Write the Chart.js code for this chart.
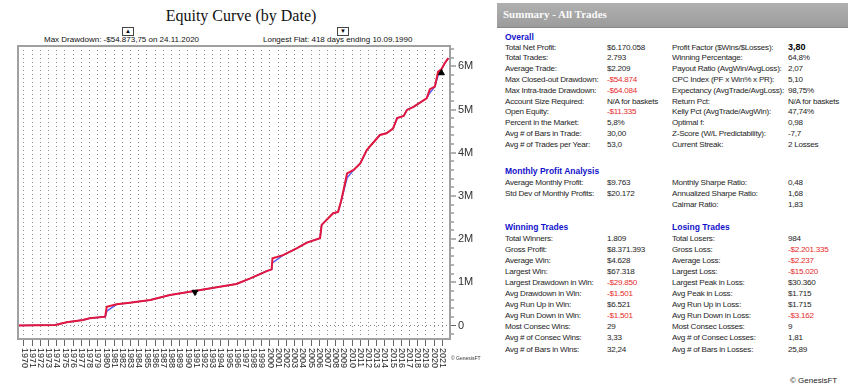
<!DOCTYPE html>
<html>
<head>
<meta charset="utf-8">
<script src="https://cdn.jsdelivr.net/npm/chart.js@4.4.1/dist/chart.umd.min.js"></script>
<style>
  body { margin:0; width:848px; height:391px; background:#fff; position:relative; overflow:hidden;
         font-family:"Liberation Sans", Arial, sans-serif; color:#1a1a1a; }
  #wrap { position:absolute; left:0; top:0; width:480px; height:391px; }
  .title { position:absolute; left:241px; top:7px; transform:translateX(-50%); white-space:nowrap;
           font-family:"Liberation Serif","Times New Roman",serif; font-size:16px; color:#111; }
  .sub { position:absolute; top:35px; font-size:8px; white-space:nowrap; color:#111; }
  .mark { position:absolute; top:27px; width:10px; height:7px; border:1px solid #444; font-size:6px;
          line-height:7px; text-align:center; color:#000; }
  .bar { position:absolute; left:497px; top:3px; width:351px; height:24px;
         background:linear-gradient(#b0b0b0,#9c9c9c); border-bottom:1px solid #888; }
  .bar span { position:absolute; left:6px; top:5px; font-family:"Liberation Serif","Times New Roman",serif;
              font-weight:bold; font-size:11px; color:#fafafa; }
  .t { position:absolute; font-size:8.1px; letter-spacing:-0.25px; line-height:11px; white-space:nowrap; color:#1e1e1e; }
  .h { position:absolute; font-size:8.5px; line-height:11px; white-space:nowrap; font-weight:bold; color:#1212cc; }
  .red { color:#e52b2b; }
  .b { font-weight:bold; font-size:9px; letter-spacing:0; color:#000; }
  .copy1 { position:absolute; left:451px; top:355px; font-size:5px; color:#333; white-space:nowrap; }
  .copy2 { position:absolute; left:790px; top:376px; font-size:8px; color:#222; white-space:nowrap; }
</style>
</head>
<body>
<div class="title">Equity Curve (by Date)</div>
<div class="mark" style="left:122px">&#9650;</div>
<div class="mark" style="left:337px">&#9660;</div>
<div class="sub" style="left:44px">Max Drawdown: -$54.873,75 on 24.11.2020</div>
<div class="sub" style="left:263px">Longest Flat: 418 days ending 10.09.1990</div>
<div id="wrap"><canvas id="grafico"></canvas></div>
<div class="copy1">&copy; GenesisFT</div>
<div class="bar"><span>Summary - All Trades</span></div>
<div id="tabella"></div>
<div class="copy2">&copy; GenesisFT</div>
<script>
// dati (anni decimali, equity in $)
const dates = [1969.3, 1971.5, 1973.8, 1975.2, 1977.2, 1978.0, 1979.9, 1980.1, 1981.3, 1982.9,
  1985.4, 1987.8, 1990.8, 1993.5, 1995.9, 1997.6, 1999.6, 2000.2, 2000.3, 2001.6,
  2003.3, 2004.5, 2006.1, 2006.3, 2007.7, 2008.3, 2008.7, 2009.4, 2010.2, 2011.0,
  2011.8, 2013.4, 2014.2, 2015.0, 2015.5, 2016.3, 2016.7, 2017.5, 2019.1, 2019.5,
  2020.1, 2020.5, 2020.9, 2021.3, 2021.75];
const closedEquity = [0, 5000, 10000, 74000, 127000, 167000, 204000, 435000, 490000, 528000,
  590000, 706000, 800000, 884000, 960000, 1090000, 1260000, 1300000, 1555000, 1630000,
  1790000, 1920000, 2020000, 2330000, 2600000, 2630000, 2900000, 3520000, 3600000, 3750000,
  4060000, 4410000, 4450000, 4560000, 4800000, 4850000, 4990000, 5060000, 5260000, 5470000,
  5530000, 5875000, 5930000, 6070000, 6190000];
const openEquity = [0, 5000, 10000, 74000, 127000, 167000, 204000, 330000, 490000, 528000,
  590000, 706000, 800000, 884000, 960000, 1090000, 1260000, 1300000, 1450000, 1630000,
  1790000, 1920000, 2020000, 2330000, 2600000, 2630000, 2900000, 3420000, 3600000, 3750000,
  4060000, 4410000, 4450000, 4560000, 4800000, 4850000, 4990000, 5060000, 5260000, 5390000,
  5530000, 5790000, 5930000, 6070000, 6190000];
const maxDD = [2020.9, 5845000];
const longestFlat = [1990.85, 775000];

const xLabels = ['1970','1971','1972','1973','1974','1975','1976','1977','1978','1979',
  '1980','1981','1982','1983','1984','1985','1986','1987','1988','1989',
  '1990','1991','1992','1993','1994','1995','1996','1997','1998','1999',
  '2000','2001','2002','2003','2004','2005','2006','2007','2008','2009',
  '2010','2011','2012','2013','2014','2015','2016','2017','2018','2019',
  '2020','2021'];
const yMajor = [0, 1000000, 2000000, 3000000, 4000000, 5000000, 6000000];
const yLabels = ['0', '1M', '2M', '3M', '4M', '5M', '6M'];

// tabella riassuntiva
const overallLeft = [["Total Net Profit:", "$6.170.058"], ["Total Trades:", "2.793"], ["Average Trade:", "$2.209"],
  ["Max Closed-out Drawdown:", "-$54.874"], ["Max Intra-trade Drawdown:", "-$64.084"],
  ["Account Size Required:", "N/A for baskets"], ["Open Equity:", "-$11.335"], ["Percent in the Market:", "5,8%"],
  ["Avg # of Bars in Trade:", "30,00"], ["Avg # of Trades per Year:", "53,0"]];
const overallRight = [["Profit Factor ($Wins/$Losses):", "3,80"], ["Winning Percentage:", "64,8%"],
  ["Payout Ratio (AvgWin/AvgLoss):", "2,07"], ["CPC Index (PF x Win% x PR):", "5,10"],
  ["Expectancy (AvgTrade/AvgLoss):", "98,75%"], ["Return Pct:", "N/A for baskets"],
  ["Kelly Pct (AvgTrade/AvgWin):", "47,74%"], ["Optimal f:", "0,98"],
  ["Z-Score (W/L Predictability):", "-7,7"], ["Current Streak:", "2 Losses"]];
const monthlyLeft = [["Average Monthly Profit:", "$9.763"], ["Std Dev of Monthly Profits:", "$20.172"]];
const monthlyRight = [["Monthly Sharpe Ratio:", "0,48"], ["Annualized Sharpe Ratio:", "1,68"], ["Calmar Ratio:", "1,83"]];
const winning = [["Total Winners:", "1.809"], ["Gross Profit:", "$8.371.393"], ["Average Win:", "$4.628"],
  ["Largest Win:", "$67.318"], ["Largest Drawdown in Win:", "-$29.850"], ["Avg Drawdown in Win:", "-$1.501"],
  ["Avg Run Up in Win:", "$6.521"], ["Avg Run Down in Win:", "-$1.501"], ["Most Consec Wins:", "29"],
  ["Avg # of Consec Wins:", "3,33"], ["Avg # of Bars in Wins:", "32,24"]];
const losing = [["Total Losers:", "984"], ["Gross Loss:", "-$2.201.335"], ["Average Loss:", "-$2.237"],
  ["Largest Loss:", "-$15.020"], ["Largest Peak in Loss:", "$30.360"], ["Avg Peak in Loss:", "$1.715"],
  ["Avg Run Up in Loss:", "$1.715"], ["Avg Run Down in Loss:", "-$3.162"], ["Most Consec Losses:", "9"],
  ["Avg # of Consec Losses:", "1,81"], ["Avg # of Bars in Losses:", "25,89"]];

const tabella = document.getElementById('tabella');
function addText(cls, text, x, yc) {
  const d = document.createElement('div');
  d.className = cls;
  d.textContent = text;
  d.style.left = x + 'px';
  d.style.top = (yc - 5.5) + 'px';
  tabella.appendChild(d);
}
function addRows(rows, lx, vx, y0, step) {
  rows.forEach((r, i) => {
    addText('t', r[0], lx, y0 + i * step);
    let cls = 't';
    if (r[1].startsWith('-$')) cls += ' red';
    if (r[1] === '3,80') cls += ' b';
    addText(cls, r[1], vx, y0 + i * step);
  });
}
addText('h', 'Overall', 505, 37);
addRows(overallLeft, 505, 607, 47, 10.8);
addRows(overallRight, 672, 788, 47, 10.8);
addText('h', 'Monthly Profit Analysis', 505, 171);
addRows(monthlyLeft, 505, 607, 182.5, 10.8);
addRows(monthlyRight, 672, 788, 182.5, 10.8);
addText('h', 'Winning Trades', 505, 227);
addText('h', 'Losing Trades', 672, 227);
addRows(winning, 505, 607, 238, 11.1);
addRows(losing, 672, 788, 238, 11.1);

// grafico
Chart.defaults.font.family = '"Liberation Sans", Arial, sans-serif';

const yearLabels = {
  id: 'yearLabels',
  afterDraw(chart) {
    const sc = chart.scales.x;
    const ctx = chart.ctx;
    ctx.save();
    ctx.font = '9px "Liberation Sans", Arial';
    ctx.fillStyle = '#222';
    ctx.textAlign = 'left';
    ctx.textBaseline = 'middle';
    xLabels.forEach(lb => {
      const px = sc.getPixelForValue(Number(lb));
      ctx.save();
      ctx.translate(px, sc.top + 9);
      ctx.rotate(Math.PI / 2);
      ctx.fillText(lb, 0, 0);
      ctx.restore();
    });
    ctx.restore();
  }
};

const cornice = {
  id: 'cornice',
  afterDraw(chart) {
    const a = chart.chartArea;
    const ctx = chart.ctx;
    ctx.save();
    ctx.strokeStyle = '#a0a0a0';
    ctx.lineWidth = 2;
    ctx.beginPath();
    ctx.moveTo(a.left, a.bottom);
    ctx.lineTo(a.left, a.top);
    ctx.lineTo(a.right, a.top);
    ctx.stroke();
    ctx.restore();
  }
};

const grafico = new Chart(document.getElementById('grafico'), {
  type: 'line',
  data: {
    datasets: [
      {
        data: dates.map((d, i) => ({ x: d, y: closedEquity[i] })),
        borderColor: '#e3173d', borderWidth: 2, pointRadius: 0, tension: 0, order: 1
      },
      {
        data: dates.map((d, i) => ({ x: d, y: openEquity[i] })),
        borderColor: '#5a5af0', borderWidth: 1.5, pointRadius: 0, tension: 0, order: 2
      },
      {
        data: [{ x: maxDD[0], y: maxDD[1] }],
        showLine: false, pointStyle: 'triangle', pointRadius: 3.5,
        backgroundColor: '#000', borderColor: '#000', order: 0
      },
      {
        data: [{ x: longestFlat[0], y: longestFlat[1] }],
        showLine: false, pointStyle: 'triangle', pointRadius: 3.5, pointRotation: 180,
        backgroundColor: '#000', borderColor: '#000', order: 0
      }
    ]
  },
  options: {
    responsive: true,
    maintainAspectRatio: false,
    animation: false,
    layout: { padding: { left: 18, top: 46, right: 0, bottom: 0 } },
    plugins: { legend: { display: false }, tooltip: { enabled: false } },
    scales: {
      x: {
        type: 'linear', min: 1969.27, max: 2021.95,
        afterBuildTicks: s => { s.ticks = xLabels.map(v => ({ value: Number(v) })); },
        afterFit: s => { s.height = 52; },
        ticks: { display: false },
        grid: { color: '#8c8c8c', lineWidth: 1, tickLength: 7, tickColor: '#666', tickWidth: 1 },
        border: { color: '#a0a0a0', width: 2, dash: [1, 3] }
      },
      y: {
        type: 'linear', position: 'right', min: -312500, max: 6470000,
        afterBuildTicks: s => {
          const t = [];
          for (let v = -200000; v <= 6400000; v += 200000) t.push({ value: v });
          s.ticks = t;
        },
        afterFit: s => { s.width = 30; },
        ticks: {
          autoSkip: false, padding: 2, color: '#333', font: { size: 11 },
          callback: v => { const k = yMajor.indexOf(v); return k >= 0 ? yLabels[k] : ''; }
        },
        grid: {
          color: '#8c8c8c',
          lineWidth: c => (c.tick && c.tick.value === 0 ? 1 : 0),
          tickLength: 6, tickWidth: 1, tickColor: '#666',
          tickBorderDash: c => (c.tick && yMajor.indexOf(c.tick.value) >= 0 ? [] : [3, 20])
        },
        border: { color: '#a0a0a0', width: 2, dash: [1, 3] }
      }
    }
  },
  plugins: [yearLabels, cornice]
});
</script>
</body>
</html>
